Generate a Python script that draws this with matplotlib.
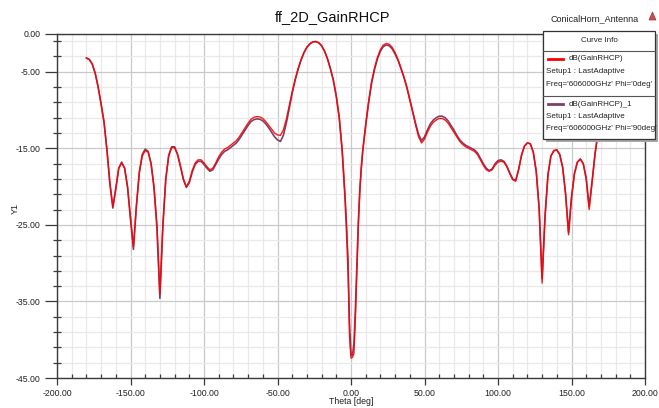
import numpy as np
import matplotlib
matplotlib.use("Agg")
import matplotlib.pyplot as plt
from matplotlib.patches import Rectangle, Polygon
from matplotlib.lines import Line2D

plt.rcParams['font.family'] = ['Liberation Sans', 'DejaVu Sans']

# ---- data ----
theta = np.concatenate([np.arange(-180, -6, 2), np.arange(-6, 9, 1), np.arange(10, 181, 2)])

gain_phi0 = [
    -3.2, -3.4, -4.0, -5.2, -7.0, -9.2, -11.6, -15.2, -19.5, -22.6,
    -20.2, -17.6, -16.9, -17.6, -20.0, -24.0, -27.8, -22.5, -18.2, -16.0,
    -15.3, -15.5, -17.0, -20.0, -25.0, -34.0, -25.0, -19.0, -16.0, -14.9,
    -14.9, -15.8, -17.3, -19.0, -20.0, -19.3, -17.9, -16.9, -16.5, -16.5,
    -16.9, -17.4, -17.8, -17.6, -16.9, -16.1, -15.5, -15.1, -14.9, -14.6,
    -14.3, -14.0, -13.5, -12.9, -12.3, -11.7, -11.2, -10.95, -10.85, -10.9,
    -11.1, -11.5, -12.0, -12.5, -13.0, -13.25, -13.3, -12.6, -11.2, -9.4,
    -7.6, -6.0, -4.6, -3.4, -2.5, -1.8, -1.35, -1.1, -1.05, -1.2,
    -1.6, -2.3, -3.3, -4.6, -6.1, -8.2, -11.0,
    # -6 .. 8 (1 deg)
    -15.2, -18.2, -21.3, -25.0, -29.5, -39.5, -42.4, -42.3, -41.8, -37.0,
    -31.0, -25.0, -20.6, -17.6, -15.3,
    # 10 .. 180
    -11.9, -8.9, -6.3, -4.5, -3.1, -2.1, -1.5, -1.3, -1.4, -1.8,
    -2.5, -3.4, -4.5, -5.7, -7.1, -8.7, -10.3, -12.0, -13.5, -14.3,
    -13.8, -12.9, -12.1, -11.6, -11.3, -11.1, -11.1, -11.3, -11.7, -12.3,
    -12.9, -13.5, -14.1, -14.5, -14.8, -15.0, -15.2, -15.4, -15.8, -16.5,
    -17.2, -17.8, -18.0, -17.8, -17.2, -16.8, -16.7, -16.8, -17.4, -18.3,
    -19.1, -19.3, -17.8, -15.9, -14.7, -14.3, -14.4, -15.5, -18.0, -23.0,
    -32.6, -24.0, -18.5, -16.0, -15.3, -15.2, -15.8, -17.5, -21.0, -26.3,
    -21.5, -18.3, -16.8, -16.4, -17.0, -19.0, -23.0, -19.5, -15.8, -13.0,
    -10.6, -8.5, -6.6, -5.1, -4.0, -3.3,
]

gain_phi90 = [
    -3.2, -3.4, -4.0, -5.2, -7.0, -9.2, -11.6, -15.3, -19.7, -22.8,
    -20.3, -17.6, -16.8, -17.6, -20.1, -24.3, -28.2, -22.6, -18.1, -15.8,
    -15.1, -15.4, -17.0, -20.2, -25.5, -34.6, -25.3, -19.0, -15.9, -14.8,
    -14.8, -15.8, -17.4, -19.1, -20.1, -19.5, -18.1, -17.1, -16.7, -16.7,
    -17.1, -17.6, -18.0, -17.8, -17.1, -16.4, -15.8, -15.4, -15.2, -14.9,
    -14.6, -14.3, -13.8, -13.2, -12.6, -12.0, -11.5, -11.25, -11.15, -11.2,
    -11.4, -11.8, -12.3, -12.9, -13.5, -13.9, -14.1, -13.3, -11.7, -9.8,
    -7.8, -6.1, -4.7, -3.5, -2.5, -1.8, -1.35, -1.1, -1.05, -1.2,
    -1.6, -2.3, -3.3, -4.6, -6.1, -8.2, -11.0,
    # -6 .. 8 (1 deg)
    -15.3, -18.5, -21.8, -26.0, -31.0, -38.0, -42.0, -42.0, -40.5, -36.0,
    -30.5, -24.6, -20.4, -17.5, -15.3,
    # 10 .. 180
    -12.0, -9.0, -6.5, -4.7, -3.3, -2.3, -1.7, -1.5, -1.6, -2.0,
    -2.7, -3.5, -4.6, -5.7, -7.0, -8.6, -10.2, -11.8, -13.2, -14.0,
    -13.5, -12.6, -11.8, -11.3, -11.0, -10.8, -10.8, -11.0, -11.4, -12.0,
    -12.6, -13.3, -13.9, -14.3, -14.6, -14.8, -15.0, -15.2, -15.6, -16.3,
    -17.0, -17.6, -17.9, -17.7, -17.0, -16.6, -16.5, -16.7, -17.3, -18.2,
    -19.0, -19.2, -17.8, -15.9, -14.7, -14.3, -14.4, -15.5, -18.0, -22.8,
    -32.0, -23.8, -18.4, -16.0, -15.3, -15.2, -15.8, -17.5, -21.0, -26.0,
    -21.4, -18.3, -16.8, -16.4, -17.0, -18.9, -22.6, -19.3, -15.7, -13.0,
    -10.6, -8.5, -6.6, -5.1, -4.0, -3.3,
]

x_major = [-200, -150, -100, -50, 0, 50, 100, 150, 200]
x_labels = ['-200.00', '-150.00', '-100.00', '-50.00', '0.00', '50.00', '100.00', '150.00', '200.00']
y_major = [0, -5, -15, -25, -35, -45]
y_labels = ['0.00', '-5.00', '-15.00', '-25.00', '-35.00', '-45.00']

title = 'ff_2D_GainRHCP'
project = 'ConicalHorn_Antenna'
curve_names = ['dB(GainRHCP)', 'dB(GainRHCP)_1']
curve_setup = ['Setup1 : LastAdaptive', 'Setup1 : LastAdaptive']
curve_freq = ["Freq='606000GHz' Phi='0deg'", "Freq='606000GHz' Phi='90deg'"]
colors = ['#ff0000', '#7e3f68']

# ---- figure ----
W, H = 659, 408
fig = plt.figure(figsize=(W / 100, H / 100), dpi=100)
fig.patch.set_facecolor('white')


def fx(px):
    return px / W


def fy(py):
    return 1 - py / H


ax = fig.add_axes([fx(57), fy(378), (645 - 57) / W, (378 - 33.5) / H])
ax.set_xlim(-200, 200)
ax.set_ylim(-45, 0)

ax.set_xticks(x_major)
ax.set_xticklabels(x_labels)
ax.set_xticks(np.arange(-200, 201, 10), minor=True)
ax.set_yticks(y_major)
ax.set_yticklabels(y_labels)
ax.set_yticks([v for v in range(-1, -45, -2) if v not in y_major], minor=True)

ax.grid(which='minor', color='#e9e9e9', lw=0.9)
ax.grid(which='major', color='#c9c9c9', lw=0.9)
ax.set_axisbelow(True)

for s in ax.spines.values():
    s.set_color('#3a3a3a')
    s.set_linewidth(1.0)

ax.tick_params(axis='y', which='major', direction='out', length=9, width=0.9,
               color='#3a3a3a', labelsize=6.3, pad=3, labelcolor='#222222')
ax.tick_params(axis='y', which='minor', direction='inout', length=6, width=0.9, color='#3a3a3a')
ax.tick_params(axis='x', which='major', direction='out', length=5, width=0.9,
               color='#3a3a3a', labelsize=6.3, pad=3, labelcolor='#222222')
ax.tick_params(axis='x', which='minor', direction='in', length=3, width=0.9, color='#3a3a3a')

ax.plot(theta, gain_phi90, color=colors[1], lw=1.2, zorder=3)
ax.plot(theta, gain_phi0, color=colors[0], lw=1.0, zorder=4, alpha=0.9)

# texts
fig.text(fx(333), fy(17), title, ha='center', va='center', fontsize=10.5, color='#111111')
fig.text(fx(595), fy(19), project, ha='center', va='center', fontsize=6.5, color='#222222')
fig.add_artist(Polygon([[fx(649), fy(20)], [fx(656), fy(20)], [fx(652.5), fy(12)]],
                       closed=True, facecolor='#c85050', edgecolor='#a03030', lw=0.5,
                       transform=fig.transFigure))
fig.text(fx(351), fy(402), 'Theta [deg]', ha='center', va='center', fontsize=6.3, color='#222222')
fig.text(fx(15), fy(208), 'Y1', ha='center', va='center', fontsize=6.5, rotation=90, color='#222222')

# legend box ("Curve Info")
lx0, lx1, ly0, ly1 = 543, 655, 31, 139
fig.add_artist(Rectangle((fx(lx0 + 3), fy(ly1 + 3)), (lx1 - lx0) / W, (ly1 - ly0) / H,
                         transform=fig.transFigure, facecolor='#a8a8a8', edgecolor='none', zorder=9))
fig.add_artist(Rectangle((fx(lx0), fy(ly1)), (lx1 - lx0) / W, (ly1 - ly0) / H,
                         transform=fig.transFigure, facecolor='white', edgecolor='#333333', lw=0.9, zorder=10))
fig.text(fx((lx0 + lx1) / 2), fy(41), 'Curve Info', ha='center', va='center', fontsize=5.8,
         color='#222222', zorder=11)
for yy in (50.5, 95.5):
    fig.add_artist(Line2D([fx(lx0), fx(lx1)], [fy(yy), fy(yy)], transform=fig.transFigure,
                          color='#555555', lw=0.8, zorder=11))

entry_y = [59, 104]
for i in range(2):
    y0 = entry_y[i]
    fig.add_artist(Line2D([fx(548), fx(563)], [fy(y0), fy(y0)], transform=fig.transFigure,
                          color=colors[i], lw=2.0, zorder=11))
    fig.text(fx(569), fy(y0), curve_names[i], ha='left', va='center', fontsize=5.8,
             color='#222222', zorder=11)
    fig.text(fx(546), fy(y0 + 12.5), curve_setup[i], ha='left', va='center', fontsize=5.8,
             color='#222222', zorder=11)
    fig.text(fx(546), fy(y0 + 25), curve_freq[i], ha='left', va='center', fontsize=5.8,
             color='#222222', zorder=11)

fig.savefig('out.png', dpi=100, facecolor='white')
